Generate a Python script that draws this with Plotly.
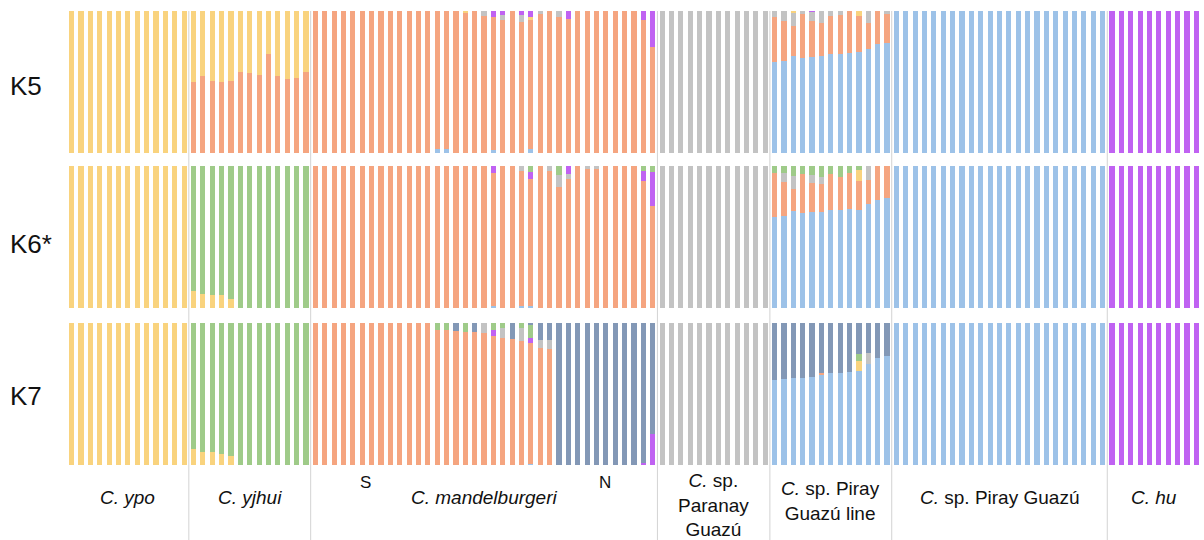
import plotly.graph_objects as go
from plotly.subplots import make_subplots

# ---------------- data ----------------
group_sizes = [13, 13, 37, 12, 13, 23, 10]
group_labels = ["<i>C. ypo</i>", "<i>C. yjhui</i>", "<i>C. mandelburgeri</i>",
                "<i>C.</i> sp.<br>Paranay<br>Guazú", "<i>C.</i> sp. Piray<br>Guazú line",
                "<i>C.</i> sp. Piray Guazú", "<i>C. hu</i>"]
k_labels = ["K5", "K6*", "K7"]
n_ind = sum(group_sizes)
ids = list(range(n_ind))

colors = {
    "yellow": "#F9D37E",
    "orange": "#F5A580",
    "gray": "#C3C3C3",
    "blue": "#9DC2E8",
    "purple": "#C062F2",
    "green": "#9FCB89",
    "darkblue": "#8398B6",
}

# ---- K5 ----
k5_blue = ([0.0] * 13 + [0.0] * 13 +
           [0, 0, 0, 0, 0, 0, 0, 0, 0, 0,
            0, 0, 0, .03, .03, 0, 0, 0, 0, .02,
            0, 0, 0, .03, 0, 0, 0, 0, 0, 0,
            0, 0, 0, 0, 0, 0, 0] +
           [0.0] * 12 +
           [.644, .651, .686, .672, .679, .686, .696, .696, .707, .712, .731, .766, .773] +
           [1.0] * 23 + [0.0] * 10)
k5_orange = ([0.0] * 13 +
             [.50, .54, .51, .50, .51, .57, .56, .55, .70, .54, .52, .53, .57] +
             [1, 1, 1, 1, 1, 1, 1, 1, 1, 1,
              1, 1, 1, .97, .97, 1, .99, 1, .965, .935,
              .935, 1, .925, .905, .98, 1, .96, .945, 1, 1,
              1, 1, 1, 1, 1, .935, .75] +
             [0.0] * 12 +
             [.316, .281, .208, .307, .253, .227, .272, .276, .293, .253, .183, .234, .206] +
             [0.0] * 23 + [0.0] * 10)
k5_gray = ([0.0] * 13 + [0.0] * 13 +
           [0, 0, 0, 0, 0, 0, 0, 0, 0, 0,
            0, 0, 0, 0, 0, 0, 0, 0, .035, 0,
            .035, 0, .045, 0, .02, 0, .04, 0, 0, 0,
            0, 0, 0, 0, 0, 0, 0] +
           [1.0] * 12 +
           [.040, .068, .094, .021, .061, .087, .032, .028, 0, 0, .086, 0, .021] +
           [0.0] * 23 + [0.0] * 10)
k5_yellow = ([1.0] * 13 +
             [.50, .46, .49, .50, .49, .43, .44, .45, .30, .46, .48, .47, .43] +
             [0, 0, 0, 0, 0, 0, 0, 0, 0, 0,
              0, 0, 0, 0, 0, 0, .01, 0, 0, 0,
              0, 0, 0, .02, 0, 0, 0, 0, 0, 0,
              0, 0, 0, 0, 0, 0, 0] +
             [0.0] * 12 +
             [0, 0, .012, 0, 0, 0, 0, 0, 0, .035, 0, 0, 0] +
             [0.0] * 23 + [0.0] * 10)
k5_purple = ([0.0] * 13 + [0.0] * 13 +
             [0, 0, 0, 0, 0, 0, 0, 0, 0, 0,
              0, 0, 0, 0, 0, 0, 0, 0, 0, .045,
              .03, 0, .03, .045, 0, 0, 0, .055, 0, 0,
              0, 0, 0, 0, 0, .065, .25] +
             [0.0] * 12 +
             [0, 0, 0, 0, .007, 0, 0, 0, 0, 0, 0, 0, 0] +
             [0.0] * 23 + [1.0] * 10)

# ---- K6 ----
k6_blue = ([0.0] * 13 + [0.0] * 13 +
           [0, 0, 0, 0, 0, 0, 0, 0, 0, 0,
            0, 0, 0, 0, 0, 0, 0, 0, 0, .015,
            0, 0, .015, .015, 0, 0, 0, 0, 0, 0,
            0, 0, 0, 0, 0, 0, 0] +
           [0.0] * 12 +
           [.640, .645, .680, .666, .673, .678, .689, .687, .696, .687, .731, .764, .776] +
           [1.0] * 23 + [0.0] * 10)
k6_orange = ([0.0] * 13 + [0.0] * 13 +
             [1, 1, 1, 1, 1, 1, 1, 1, 1, 1,
              1, 1, 1, 1, 1, 1, 1, 1, 1, .938,
              1, 1, .952, .896, 1, .967, .855, .911, 1, .977,
              .981, 1, 1, 1, 1, .895, .715] +
             [0.0] * 12 +
             [.308, .245, .157, .278, .206, .196, .255, .238, .257, .210, .171, .236, .224] +
             [0.0] * 23 + [0.0] * 10)
k6_yellow = ([1.0] * 13 +
             [.12, .10, .09, .09, .06, 0, 0, 0, 0, 0, 0, 0, 0] +
             [0.0] * 37 + [0.0] * 12 +
             [0, 0, 0, 0, 0, 0, 0, 0, 0, .075, 0, 0, 0] +
             [0.0] * 23 + [0.0] * 10)
k6_gray = ([0.0] * 13 + [0.0] * 13 +
           [0, 0, 0, 0, 0, 0, 0, 0, 0, 0,
            0, 0, 0, 0, 0, 0, 0, 0, 0, 0,
            0, 0, .033, 0, 0, .033, .082, .033, 0, .023,
            .019, 0, 0, 0, 0, 0, 0] +
           [1.0] * 12 +
           [0, .063, .093, 0, .058, .051, 0, 0, 0, 0, .098, 0, 0] +
           [0.0] * 23 + [0.0] * 10)
k6_purple = ([0.0] * 13 + [0.0] * 13 +
             [0, 0, 0, 0, 0, 0, 0, 0, 0, 0,
              0, 0, 0, 0, 0, 0, 0, 0, 0, .047,
              0, 0, 0, .047, 0, 0, 0, .056, 0, 0,
              0, 0, 0, 0, 0, .07, .243] +
             [0.0] * 12 + [0.0] * 13 +
             [0.0] * 23 + [1.0] * 10)
k6_green = ([0.0] * 13 +
            [.88, .90, .91, .91, .94, 1, 1, 1, 1, 1, 1, 1, 1] +
            [0, 0, 0, 0, 0, 0, 0, 0, 0, 0,
             0, 0, 0, 0, 0, 0, 0, 0, 0, 0,
             0, 0, 0, .042, 0, 0, .063, 0, 0, 0,
             0, 0, 0, 0, 0, .035, .042] +
            [0.0] * 12 +
            [.052, .047, .070, .056, .063, .075, .056, .075, .047, .028, 0, 0, 0] +
            [0.0] * 23 + [0.0] * 10)

# ---- K7 ----
k7_blue = ([0.0] * 13 + [0.0] * 13 +
           [0, 0, 0, 0, 0, 0, 0, 0, 0, 0,
            0, 0, 0, 0, 0, 0, 0, 0, 0, 0,
            0, 0, 0, .01, 0, 0, 0, 0, 0, 0,
            0, 0, 0, 0, 0, 0, 0] +
           [0.0] * 12 +
           [.597, .604, .614, .614, .623, .639, .649, .649, .656, .665, .714, .754, .766] +
           [1.0] * 23 + [0.0] * 10)
k7_orange = ([0.0] * 13 + [0.0] * 13 +
             [1, 1, 1, 1, 1, 1, 1, 1, 1, 1,
              1, 1, 1, .948, .948, .941, .937, .934, .93, .906,
              .897, .888, .874, .85, .824, .817, 0, 0, 0, 0,
              0, 0, 0, 0, 0, 0, 0] +
             [0.0] * 12 +
             [0, 0, 0, 0, 0, .007, 0, 0, 0, 0, 0, 0, 0] +
             [0.0] * 23 + [0.0] * 10)
k7_yellow = ([1.0] * 13 +
             [.11, .09, .09, .08, .06, 0, 0, 0, 0, 0, 0, 0, 0] +
             [0.0] * 37 + [0.0] * 12 +
             [0, 0, 0, 0, 0, 0, 0, 0, 0, .066, 0, 0, 0] +
             [0.0] * 23 + [0.0] * 10)
k7_purple = ([0.0] * 13 + [0.0] * 13 +
             [0, 0, 0, 0, 0, 0, 0, 0, 0, 0,
              0, 0, 0, 0, 0, 0, 0, 0, 0, .047,
              0, 0, 0, .037, 0, 0, 0, 0, 0, 0,
              0, 0, 0, 0, 0, .012, .215] +
             [0.0] * 12 + [0.0] * 13 +
             [0.0] * 23 + [1.0] * 10)
k7_gray = ([0.0] * 13 + [0.0] * 13 +
           [0, 0, 0, 0, 0, 0, 0, 0, 0, 0,
            0, 0, 0, 0, 0, 0, 0, 0, .07, 0,
            .066, 0, .089, 0, .059, .061, 0, 0, 0, 0,
            0, 0, 0, 0, 0, 0, 0] +
           [1.0] * 12 +
           [0, 0, 0, 0, 0, 0, 0, 0, 0, 0, .075, 0, 0] +
           [0.0] * 23 + [0.0] * 10)
k7_green = ([0.0] * 13 +
            [.89, .91, .91, .92, .94, 1, 1, 1, 1, 1, 1, 1, 1] +
            [0, 0, 0, 0, 0, 0, 0, 0, 0, 0,
             0, 0, 0, .052, .052, 0, .063, 0, 0, .047,
             .037, 0, .037, .087, 0, 0, 0, 0, 0, 0,
             0, 0, 0, 0, 0, 0, 0] +
            [0.0] * 12 +
            [0, 0, 0, 0, 0, 0, 0, 0, 0, .054, 0, 0, 0] +
            [0.0] * 23 + [0.0] * 10)
k7_darkblue = ([0.0] * 13 + [0.0] * 13 +
               [0, 0, 0, 0, 0, 0, 0, 0, 0, 0,
                0, 0, 0, 0, 0, .059, 0, .066, 0, 0,
                0, .112, 0, .016, .117, .122, 1, 1, 1, 1,
                1, 1, 1, 1, 1, .988, .785] +
               [0.0] * 12 +
               [.403, .396, .386, .386, .377, .354, .351, .351, .344, .215, .211, .246, .234] +
               [0.0] * 23 + [0.0] * 10)

rows_data = [
    [("blue", k5_blue), ("orange", k5_orange), ("gray", k5_gray),
     ("yellow", k5_yellow), ("purple", k5_purple)],
    [("blue", k6_blue), ("orange", k6_orange), ("yellow", k6_yellow),
     ("gray", k6_gray), ("purple", k6_purple), ("green", k6_green)],
    [("blue", k7_blue), ("orange", k7_orange), ("yellow", k7_yellow),
     ("purple", k7_purple), ("gray", k7_gray), ("green", k7_green),
     ("darkblue", k7_darkblue)],
]

# ---------------- figure ----------------
fig = make_subplots(rows=3, cols=1, shared_xaxes=True, vertical_spacing=0.03)
for r, series in enumerate(rows_data, start=1):
    for cname, vals in series:
        fig.add_trace(go.Bar(x=ids, y=vals, marker_color=colors[cname],
                             marker_line_width=0, showlegend=False,
                             hoverinfo="skip"), row=r, col=1)

W, H = 1204, 540
ml, mr, mt, mb = 67, 3, 11, 75
plot_h = H - mt - mb
def py(pix):
    return (H - mb - pix) / plot_h

domains = [(py(153), 1.0), (py(308), py(166)), (0.0, py(323))]
for i, d in enumerate(domains, start=1):
    fig.update_layout(**{f"yaxis{'' if i == 1 else i}": dict(
        domain=list(d), range=[0, 1], visible=False, fixedrange=True)})
    fig.update_layout(**{f"xaxis{'' if i == 1 else i}": dict(
        range=[-0.5, n_ind - 0.5], visible=False, showgrid=False)})

# group divider lines
bounds = [-0.93]
acc = 0
for s in group_sizes[:-1]:
    acc += s
    bounds.append(acc - 0.5)
shapes = []
for b in bounds:
    shapes.append(dict(type="line", xref="x", yref="paper", x0=b, x1=b,
                       y0=-(mb / plot_h), y1=1.0,
                       line=dict(color="#D3D3D3", width=1), layer="above"))

font_family = "Liberation Sans, Arial, Helvetica, sans-serif"
annotations = []
# K labels
for lab, ypix in zip(k_labels, [86, 244, 396]):
    annotations.append(dict(text=lab, xref="paper", yref="paper",
                            x=(8 - ml) / (W - ml - mr), y=py(ypix),
                            xanchor="left", yanchor="middle", showarrow=False,
                            font=dict(size=26, color="#111111", family=font_family)))
# group labels
label_y = [497, 497, 497, 505, 501.5, 497, 497]
start = 0
for lab, s, ypix in zip(group_labels, group_sizes, label_y):
    center = start + (s - 1) / 2
    start += s
    annotations.append(dict(text=lab, xref="x", yref="paper", x=center, y=py(ypix),
                            xanchor="center", yanchor="middle", showarrow=False,
                            font=dict(size=19, color="#111111", family=font_family)))
# S / N markers
for lab, xi in [("S", 31.4), ("N", 56.9)]:
    annotations.append(dict(text=lab, xref="x", yref="paper", x=xi, y=py(482),
                            xanchor="center", yanchor="middle", showarrow=False,
                            font=dict(size=17, color="#111111", family=font_family)))

fig.update_layout(
    width=W, height=H,
    margin=dict(l=ml, r=mr, t=mt, b=mb),
    barmode="stack", bargap=0.45,
    plot_bgcolor="white", paper_bgcolor="white",
    shapes=shapes, annotations=annotations,
    showlegend=False,
)

fig.write_html("out.html",
               config={"displayModeBar": False},
               post_script="document.body.style.margin='0px';"
                           "document.body.style.overflow='hidden';")
